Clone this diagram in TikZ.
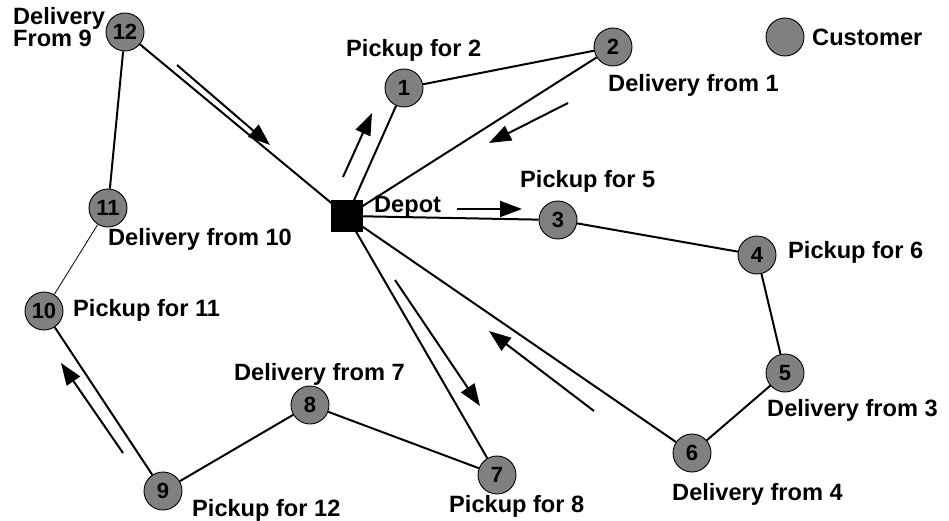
\documentclass[tikz,border=0pt]{standalone}
\usepackage{fontspec}
\setmainfont{Liberation Sans}
\usetikzlibrary{arrows.meta}
\begin{document}
\begin{tikzpicture}[x=1pt,y=-1pt,
  cust/.style={circle,draw=black,line width=0.9pt,fill=custgray,minimum size=38pt,inner sep=0pt,
    font=\fontsize{22}{22}\selectfont\bfseries},
  depotbox/.style={rectangle,fill=black,minimum size=32pt,inner sep=0pt},
  lbl/.style={anchor=base west,inner sep=0pt,font=\fontsize{23.6}{21}\selectfont\bfseries},
  route/.style={line width=2pt},
  flow/.style={line width=2pt,-{Triangle[length=22pt,width=16pt]}}]
\definecolor{custgray}{RGB}{128,128,128}
\useasboundingbox (0,0) rectangle (949,521);

% customers and depot
\node[depotbox] (d) at (347,216) {};
\node[cust] (n1) at (404,88) {1};
\node[cust] (n2) at (613,47) {2};
\node[cust] (n3) at (558,220) {3};
\node[cust] (n4) at (757,255) {4};
\node[cust] (n5) at (785,373) {5};
\node[cust] (n6) at (692,453) {6};
\node[cust] (n7) at (497,475) {7};
\node[cust] (n8) at (310,405) {8};
\node[cust] (n9) at (163,491) {9};
\node[cust] (n10) at (44,311) {10};
\node[cust] (n11) at (108,208) {11};
\node[cust] (n12) at (125,32) {12};
\node[cust] (leg) at (785,37) {};

% routes
\draw[route] (d.center) -- (n1);
\draw[route] (n1) -- (n2);
\draw[route] (n2) -- (d.center);
\draw[route] (d.center) -- (n3);
\draw[route] (n3) -- (n4);
\draw[route] (n4) -- (n5);
\draw[route] (n5) -- (n6);
\draw[route] (n6) -- (d.center);
\draw[route] (d.center) -- (n7);
\draw[route] (n7) -- (n8);
\draw[route] (n8) -- (n9);
\draw[route] (n9) -- (n10);
\draw[line width=0.8pt] (n10) -- (n11);
\draw[route] (n11) -- (n12);
\draw[route] (n12) -- (d.center);
\node[depotbox] at (d) {};

% direction of travel
\coordinate (a1s) at (177,65);  \coordinate (a1e) at (270,145);
\coordinate (a2s) at (343,177); \coordinate (a2e) at (372,113);
\coordinate (a3s) at (568,103); \coordinate (a3e) at (489,143);
\coordinate (a4s) at (457,209); \coordinate (a4e) at (522,209);
\coordinate (a5s) at (395,280); \coordinate (a5e) at (480,406);
\coordinate (a6s) at (594,411); \coordinate (a6e) at (489,331);
\coordinate (a7s) at (123,453); \coordinate (a7e) at (61,363);
\foreach \i in {1,...,7} \draw[flow] (a\i s) -- (a\i e);

% labels
\node[lbl,align=left,anchor=north west] (t12) at (13,7) {Delivery\\From 9};
\node[lbl] (t1) at (346,57) {Pickup for 2};
\node[lbl] (t2) at (608,92) {Delivery from 1};
\node[lbl] (tleg) at (812,46) {Customer};
\node[lbl] (td) at (374,212) {Depot};
\node[lbl] (t3) at (520,188) {Pickup for 5};
\node[lbl] (t4) at (788,258) {Pickup for 6};
\node[lbl] (t11) at (108,245) {Delivery from 10};
\node[lbl] (t10) at (73,316) {Pickup for 11};
\node[lbl] (t5) at (767,416) {Delivery from 3};
\node[lbl] (t8) at (234,380) {Delivery from 7};
\node[lbl] (t6) at (672,500) {Delivery from 4};
\node[lbl] (t7) at (449,512) {Pickup for 8};
\node[lbl] (t9) at (192,516) {Pickup for 12};
\end{tikzpicture}
\end{document}
